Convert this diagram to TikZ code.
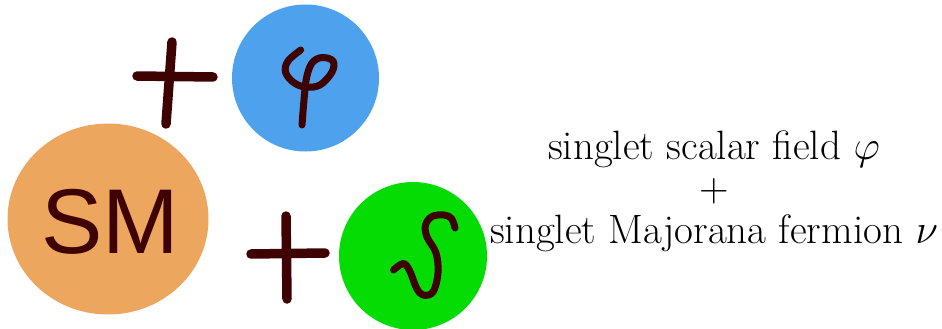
\RequirePackage{fix-cm}
\documentclass[tikz,border=0pt]{standalone}
\usepackage{fontspec}
\usetikzlibrary{shapes.geometric}
\newfontfamily\smfont{Liberation Sans}
\definecolor{ink}{RGB}{62,2,2}
\definecolor{smorange}{RGB}{237,166,94}
\definecolor{phiblue}{RGB}{78,161,236}
\definecolor{nugreen}{RGB}{4,220,4}
\begin{document}
\begin{tikzpicture}[x=1pt,y=-1pt,
  stroke/.style={draw=ink,line width=9.5pt,line cap=round,line join=round},
  glyph/.style={draw=ink,line width=7pt,line cap=round,line join=round}]
\useasboundingbox (0,0) rectangle (942,329);
% circles
\node[ellipse,fill=smorange,minimum width=201pt,minimum height=191pt,inner sep=0pt] (sm) at (108,219) {};
\node[circle,fill=phiblue,minimum size=147pt,inner sep=0pt] (phi) at (305.5,78) {};
\node[circle,fill=nugreen,minimum size=148pt,inner sep=0pt] (nu) at (413,256) {};
\node[text=ink,font=\smfont\fontsize{92}{92}\selectfont] (smtxt) at (110,222) {SM};
% plus signs
\coordinate (p1l) at (137,76); \coordinate (p1r) at (213,77);
\coordinate (p1t) at (172,42); \coordinate (p1b) at (166,124);
\draw[stroke] (p1l) -- (p1r);
\draw[stroke] (p1t) -- (p1b);
\coordinate (p2l) at (251,254); \coordinate (p2r) at (325,253);
\coordinate (p2t) at (286,216); \coordinate (p2b) at (287,299);
\draw[stroke] (p2l) -- (p2r);
\draw[stroke] (p2t) -- (p2b);
% hand drawn phi
\draw[glyph] plot[smooth,tension=0.6] coordinates {(300.7,50) (288,61) (285.5,72) (293,82) (305,87) (320,85) (332,72) (333,61) (322,57.5) (312,63) (306.5,78) (304,100) (302,125)};
% hand drawn nu
\draw[glyph] plot[smooth,tension=0.6] coordinates {(455,228) (451.5,218.5) (444,215) (432,216.5) (425.5,225) (427,237) (436,253) (438,273) (433,292) (423,295) (416.5,288) (410,271.5) (403.5,263.5) (393.5,270)};
% description
\node[align=center,font=\fontsize{41}{42}\selectfont] (desc) at (714,191) {singlet scalar field $\varphi$\\+\\singlet Majorana fermion $\nu$};
\end{tikzpicture}
\end{document}
